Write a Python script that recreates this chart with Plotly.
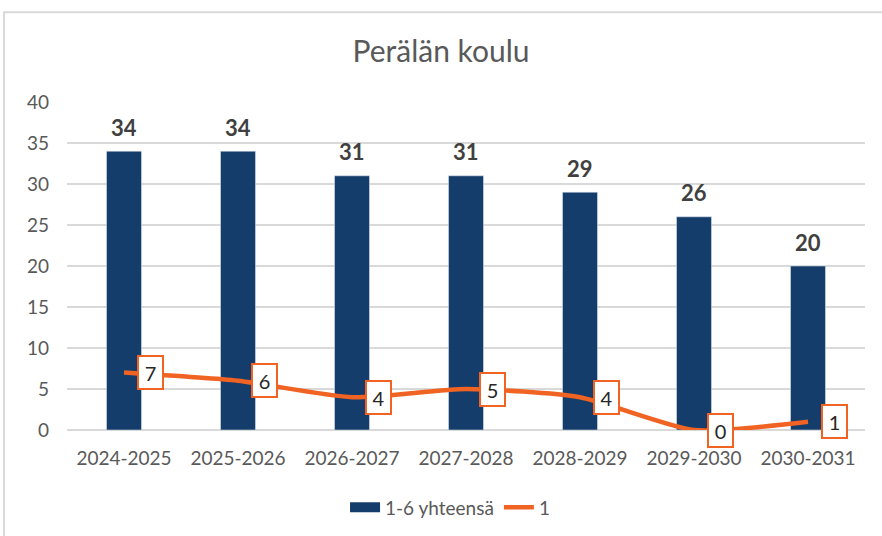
import plotly.graph_objects as go

categories = ["2024-2025", "2025-2026", "2026-2027", "2027-2028", "2028-2029", "2029-2030", "2030-2031"]
total_1_6 = [34, 34, 31, 31, 29, 26, 20]
grade_1 = [7, 6, 4, 5, 4, 0, 1]
y_ticks = [0, 5, 10, 15, 20, 25, 30, 35, 40]

BAR = "#143D6B"
LINE = "#F06322"
FONT = "Lato, Open Sans, sans-serif"

fig = go.Figure()
fig.add_trace(go.Bar(
    x=categories, y=total_1_6, name="1-6 yhteensä", marker_color=BAR,
    width=0.307, showlegend=False,
))
# legend entry for bars (wide block symbol)
fig.add_trace(go.Scatter(
    x=[None], y=[None], name="1-6 yhteensä", mode="lines",
    line=dict(color=BAR, width=11),
))
fig.add_trace(go.Scatter(
    x=categories, y=grade_1, name="1", mode="lines",
    line=dict(color=LINE, width=4.5, shape="spline", smoothing=0.6),
))
for c, v in zip(categories, total_1_6):
    fig.add_annotation(
        x=c, y=v, text=str(v), showarrow=False, yanchor="middle", yshift=24,
        font=dict(size=22, color="#404040", family=FONT, weight="bold"),
    )
for c, v in zip(categories, grade_1):
    fig.add_annotation(
        x=c, y=v, text=str(v), showarrow=False, xshift=26.5, yshift=0,
        width=19, height=27,
        bgcolor="white", bordercolor=LINE, borderwidth=2, borderpad=2,
        font=dict(size=20, color="#262626", family=FONT),
    )

fig.add_shape(type="rect", xref="paper", yref="paper",
              x0=-0.079, x1=1.06, y0=-0.45, y1=1.274,
              line=dict(color="#D9D9D9", width=2), fillcolor="rgba(0,0,0,0)", layer="below")

fig.update_layout(
    width=882, height=536,
    margin=dict(l=67, r=17, t=102, b=106, autoexpand=False),
    paper_bgcolor="white", plot_bgcolor="white",
    title=dict(text="Perälän koulu", x=0.5, xanchor="center", y=0.903, yanchor="middle",
               font=dict(size=30, color="#595959", family=FONT)),
    font=dict(family=FONT, color="#595959", size=18),
    xaxis=dict(showline=False, ticks="", automargin=False, ticklabelstandoff=15,
               tickfont=dict(size=19, color="#595959")),
    yaxis=dict(range=[0, 40], tickvals=y_ticks, showgrid=True, gridcolor="#D9D9D9", gridwidth=2,
               zeroline=True, zerolinecolor="#D9D9D9", zerolinewidth=2, automargin=False,
               tickfont=dict(size=19, color="#595959"), ticklabelstandoff=17),
    legend=dict(orientation="h", x=0.48, xanchor="center", y=-0.178, yanchor="top",
                font=dict(size=19, color="#595959")),
    showlegend=True,
)

fig.write_html("out.html", config={"displayModeBar": False},
               post_script="document.body.style.margin='0';")
